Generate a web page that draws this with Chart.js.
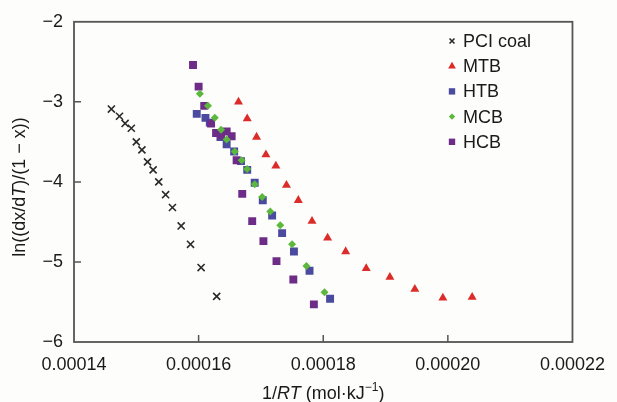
<!DOCTYPE html>
<html>
<head>
<meta charset="utf-8">
<script src="https://cdn.jsdelivr.net/npm/chart.js@4.4.1/dist/chart.umd.min.js"></script>
<style>
  html, body { margin: 0; padding: 0; background: #fdfdfb; }
  canvas { display: block; }
</style>
</head>
<body>
<canvas id="kinChart" width="617" height="402"></canvas>
<script>
// values
const pciX = [0.0001460, 0.0001473, 0.0001482, 0.0001492, 0.0001500, 0.0001509, 0.0001518, 0.0001527,
              0.0001536, 0.0001547, 0.0001558, 0.0001572, 0.0001587, 0.0001604, 0.0001629];
const pciY = [-3.09, -3.18, -3.27, -3.33, -3.50, -3.60, -3.75, -3.85, -4.00, -4.16, -4.32, -4.55, -4.78, -5.07, -5.43];

const mtbX = [0.0001664, 0.0001678, 0.0001693, 0.0001708, 0.0001724, 0.0001741, 0.0001760, 0.0001782,
              0.0001807, 0.0001836, 0.0001869, 0.0001907, 0.0001947, 0.0001992, 0.0002039];
const mtbY = [-3.00, -3.21, -3.44, -3.66, -3.80, -4.04, -4.23, -4.49, -4.70, -4.87, -5.08, -5.19, -5.34, -5.45, -5.44];

const htbX = [0.0001597, 0.0001611, 0.0001618, 0.0001635, 0.0001645, 0.0001657, 0.0001668, 0.0001678,
              0.0001690, 0.0001703, 0.0001718, 0.0001734, 0.0001753, 0.0001778, 0.0001811];
const htbY = [-3.15, -3.20, -3.26, -3.44, -3.53, -3.62, -3.74, -3.85, -4.01, -4.23, -4.42, -4.64, -4.87, -5.11, -5.46];

const mcbX = [0.0001602, 0.0001615, 0.0001626, 0.0001636, 0.0001645, 0.0001658, 0.0001669, 0.0001678,
              0.0001690, 0.0001702, 0.0001715, 0.0001731, 0.0001750, 0.0001773, 0.0001802];
const mcbY = [-2.90, -3.05, -3.20, -3.35, -3.47, -3.62, -3.73, -3.84, -4.03, -4.19, -4.37, -4.54, -4.78, -5.05, -5.38];

const hcbX = [0.0001591, 0.0001600, 0.0001609, 0.0001620, 0.0001628, 0.0001636, 0.0001645, 0.0001653,
              0.0001661, 0.0001670, 0.0001686, 0.0001704, 0.0001725, 0.0001752, 0.0001785];
const hcbY = [-2.54, -2.81, -3.05, -3.27, -3.39, -3.42, -3.37, -3.43, -3.73, -4.15, -4.49, -4.74, -4.99, -5.22, -5.53];

const seriesNames = ['PCI coal', 'MTB', 'HTB', 'MCB', 'HCB'];

const xMin = 0.00014, xMax = 0.00022, xStep = 0.00002;
const yMin = -6, yMax = -2, yStep = 1;

const FONT = '"Liberation Sans", Arial, sans-serif';
const AXIS_COLOR = '#555555';

function pts(xs, ys) {
    return xs.map((x, i) => ({ x: x, y: ys[i] }));
}

// legend drawn inside the plot, top right
const insideLegend = {
    id: 'insideLegend',
    afterDraw(chart) {
        const ctx = chart.ctx;
        const legendSizes = [3.5, 4.5, 4.5, 3.2, 4.5];
        ctx.save();
        ctx.font = '18px ' + FONT;
        ctx.textBaseline = 'middle';
        ctx.textAlign = 'left';
        chart.data.datasets.forEach((ds, i) => {
            const y = 41 + i * 25.2;
            ctx.fillStyle = ds.backgroundColor;
            ctx.strokeStyle = ds.borderColor;
            ctx.lineWidth = ds.pointBorderWidth;
            Chart.helpers.drawPoint(ctx, {
                pointStyle: ds.pointStyle,
                radius: legendSizes[i],
                rotation: 0,
                borderWidth: ds.pointBorderWidth
            }, 452, y);
            ctx.fillStyle = '#1a1a1a';
            ctx.fillText(ds.label, 463, y + 1);
        });
        ctx.restore();
    }
};

// box around plot, inward ticks, axis titles with italics
const frame = {
    id: 'frame',
    beforeDraw(chart) {
        const ctx = chart.ctx;
        ctx.save();
        ctx.fillStyle = '#fdfdfb';
        ctx.fillRect(0, 0, chart.width, chart.height);
        ctx.restore();
    },
    afterDraw(chart) {
        const ctx = chart.ctx;
        const a = chart.chartArea;
        const xs = chart.scales.x, ys = chart.scales.y;
        ctx.save();
        ctx.strokeStyle = AXIS_COLOR;
        ctx.lineWidth = 1.8;
        ctx.strokeRect(a.left, a.top, a.right - a.left, a.bottom - a.top);

        ctx.lineWidth = 1.5;
        ctx.beginPath();
        xs.ticks.forEach(t => {
            const px = xs.getPixelForValue(t.value);
            if (px <= a.left + 2 || px >= a.right - 2) return;
            ctx.moveTo(px, a.bottom);
            ctx.lineTo(px, a.bottom - 7);
        });
        ys.ticks.forEach(t => {
            const py = ys.getPixelForValue(t.value);
            if (py <= a.top + 2 || py >= a.bottom - 2) return;
            ctx.moveTo(a.left, py);
            ctx.lineTo(a.left + 7, py);
        });
        ctx.stroke();

        ctx.fillStyle = '#1a1a1a';
        ctx.textBaseline = 'middle';
        drawRich(ctx, [
            { t: '1/' }, { t: 'RT', it: true }, { t: ' (mol·kJ' }, { t: '−1', sup: true }, { t: ')' }
        ], (a.left + a.right) / 2, 394);

        ctx.translate(20, 187);
        ctx.rotate(-Math.PI / 2);
        drawRich(ctx, [
            { t: 'ln((dx/d' }, { t: 'T', it: true }, { t: ')/(1 − x))' }
        ], 0, 0);
        ctx.restore();
    }
};

function segFont(s) {
    return (s.it ? 'italic ' : '') + (s.sup ? '12px ' : '18px ') + FONT;
}

function drawRich(ctx, segs, cx, cy) {
    let total = 0;
    segs.forEach(s => { ctx.font = segFont(s); total += ctx.measureText(s.t).width; });
    let x = cx - total / 2;
    ctx.textAlign = 'left';
    segs.forEach(s => {
        ctx.font = segFont(s);
        ctx.fillText(s.t, x, s.sup ? cy - 6 : cy);
        x += ctx.measureText(s.t).width;
    });
}

const kinChart = new Chart(document.getElementById('kinChart'), {
    type: 'scatter',
    data: {
        datasets: [{
            label: seriesNames[0],
            data: pts(pciX, pciY),
            pointStyle: 'crossRot',
            pointRadius: 5,
            pointBorderWidth: 1.6,
            borderColor: '#2a2a2a',
            backgroundColor: '#2a2a2a',
            order: 5
        }, {
            label: seriesNames[1],
            data: pts(mtbX, mtbY),
            pointStyle: 'triangle',
            pointRadius: 5.2,
            pointBorderWidth: 0,
            borderColor: '#dc2c2a',
            backgroundColor: '#dc2c2a',
            order: 4
        }, {
            label: seriesNames[2],
            data: pts(htbX, htbY),
            pointStyle: 'rect',
            pointRadius: 5.6,
            pointBorderWidth: 0,
            borderColor: '#4a4a9e',
            backgroundColor: '#4a4a9e',
            order: 3
        }, {
            label: seriesNames[3],
            data: pts(mcbX, mcbY),
            pointStyle: 'rectRot',
            pointRadius: 4,
            pointBorderWidth: 0,
            borderColor: '#5cb83c',
            backgroundColor: '#5cb83c',
            order: 1
        }, {
            label: seriesNames[4],
            data: pts(hcbX, hcbY),
            pointStyle: 'rect',
            pointRadius: 5.6,
            pointBorderWidth: 0,
            borderColor: '#6c2c88',
            backgroundColor: '#6c2c88',
            order: 2
        }]
    },
    options: {
        responsive: false,
        animation: false,
        devicePixelRatio: 1,
        layout: { padding: { top: 19, right: 36, left: 0, bottom: 0 } },
        plugins: {
            legend: { display: false },
            tooltip: { enabled: false }
        },
        scales: {
            x: {
                type: 'linear',
                min: xMin,
                max: xMax,
                grid: { display: false, drawTicks: false },
                border: { display: false },
                ticks: {
                    stepSize: xStep,
                    autoSkip: false,
                    maxRotation: 0,
                    padding: 12,
                    color: '#1a1a1a',
                    font: { family: FONT, size: 18 },
                    callback: v => v.toFixed(5)
                },
                afterFit(scale) { scale.height = 60; }
            },
            y: {
                type: 'linear',
                min: yMin,
                max: yMax,
                grid: { display: false, drawTicks: false },
                border: { display: false },
                ticks: {
                    stepSize: yStep,
                    padding: 11,
                    color: '#1a1a1a',
                    font: { family: FONT, size: 18 },
                    callback: v => (v < 0 ? '−' : '') + Math.abs(v)
                },
                afterFit(scale) { scale.width = 74; }
            }
        }
    },
    plugins: [frame, insideLegend]
});
</script>
</body>
</html>
